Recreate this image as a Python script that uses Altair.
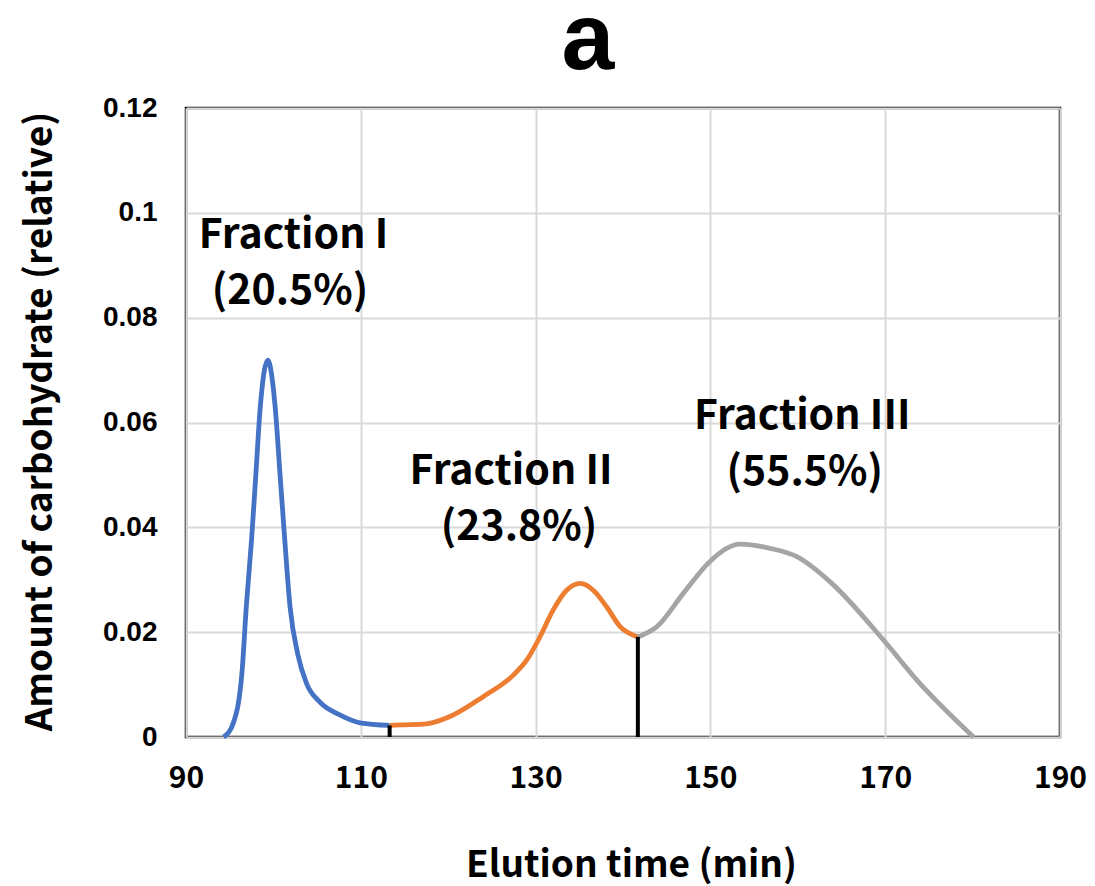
import altair as alt
import pandas as pd

# Fraction I (blue)
f1_t = [94.3, 95.4, 96.4, 96.9, 97.5, 98.0, 98.5, 99.35, 100.2, 100.75, 101.3, 101.9, 102.8, 103.8, 105.3, 107.6, 109.9, 113.3]
f1_v = [0.0, 0.0026, 0.0122, 0.0249, 0.0376, 0.0503, 0.063, 0.0719, 0.063, 0.0503, 0.0376, 0.0249, 0.0157, 0.0102, 0.0067, 0.0042, 0.0027, 0.0022]
# Fraction II (orange)
f2_t = [113.3, 114.5, 117.5, 120.2, 124.0, 127.45, 129.0, 130.5, 132.0, 133.55, 135.1, 136.6, 138.1, 139.7, 141.7]
f2_v = [0.0022, 0.0023, 0.0025, 0.0039, 0.0077, 0.0118, 0.0147, 0.0191, 0.0242, 0.028, 0.0293, 0.028, 0.0249, 0.021, 0.0191]
# Fraction III (gray)
f3_t = [141.7, 143.85, 146.9, 149.95, 153.4, 156.8, 159.9, 163.7, 169.8, 173.6, 180.1]
f3_v = [0.0191, 0.021, 0.0274, 0.0335, 0.0368, 0.036, 0.0344, 0.0296, 0.0185, 0.0109, 0.0]

series_names = ["Fraction I", "Fraction II", "Fraction III"]
series_colors = ["#4472C4", "#ED7D31", "#A5A5A5"]
series_widths = [4.8, 4.8, 6]

divider_t = [113.3, 141.7]
divider_top = [0.0022, 0.0191]

label_text = ["Fraction I", "(20.5%)", "Fraction II", "(23.8%)", "Fraction III", "(55.5%)"]
label_t = [102.3, 101.9, 127.2, 128.1, 160.5, 160.8]
label_v = [0.0956, 0.0849, 0.0506, 0.0399, 0.0611, 0.0504]

rows = []
for name, ts, vs in zip(series_names, [f1_t, f2_t, f3_t], [f1_v, f2_v, f3_v]):
    for i, (t, v) in enumerate(zip(ts, vs)):
        rows.append({"series": name, "t": t, "v": v, "order": i})
curve_df = pd.DataFrame(rows)
div_df = pd.DataFrame({"t": divider_t, "top": divider_top, "bottom": [0.0] * len(divider_t)})
lab_df = pd.DataFrame({"text": label_text, "t": label_t, "v": label_v})

x_scale = alt.Scale(domain=[90, 190], nice=False)
y_scale = alt.Scale(domain=[0, 0.12], nice=False)

x_axis = alt.Axis(
    values=[90, 110, 130, 150, 170, 190], title="Elution time (min)",
    labelFont="Noto Sans CJK JP", labelFontWeight="bold", labelFontSize=30, labelColor="#000000",
    labelBaseline="middle", labelPadding=41, labelFlush=False, labelOverlap=False,
    ticks=False, domain=False, grid=True, gridColor="#d9d9d9", gridWidth=2,
    titleFont="Noto Sans CJK JP", titleFontWeight="bold", titleFontSize=37, titleColor="#000000",
    titleX=445, titleY=128, titleBaseline="middle", titleAlign="center",
)
y_axis = alt.Axis(
    values=[0, 0.02, 0.04, 0.06, 0.08, 0.1, 0.12], title="Amount of carbohydrate (relative)",
    labelExpr="datum.value == 0 ? '0' : format(datum.value, '.2~f')",
    labelFont="Liberation Sans", labelFontWeight="bold", labelFontSize=28, labelColor="#000000",
    labelPadding=29, labelFlush=False, labelOverlap=False,
    ticks=False, domain=False, grid=True, gridColor="#d9d9d9", gridWidth=2,
    titleFont="Noto Sans CJK JP", titleFontWeight="bold", titleFontSize=37, titleColor="#000000",
    titleX=-146, titleY=313, titleBaseline="middle", titleAlign="center", titleAngle=270,
)

curves = alt.Chart(curve_df).mark_line(interpolate="monotone").encode(
    x=alt.X("t:Q", scale=x_scale, axis=x_axis),
    y=alt.Y("v:Q", scale=y_scale, axis=y_axis),
    color=alt.Color("series:N", scale=alt.Scale(domain=series_names, range=series_colors), legend=None),
    size=alt.Size("series:N", scale=alt.Scale(domain=series_names, range=series_widths), legend=None),
    order="order:Q",
)

dividers = alt.Chart(div_df).mark_rule(color="#000000", strokeWidth=4).encode(
    x="t:Q", y="bottom:Q", y2="top:Q",
)

labels = alt.Chart(lab_df).mark_text(
    font="Noto Sans CJK JP", fontWeight="bold", fontSize=41, color="#000000",
    align="center", baseline="middle",
).encode(x="t:Q", y="v:Q", text="text:N")

chart = alt.layer(curves, dividers, labels).properties(
    width=874, height=629,
    title=alt.TitleParams(
        "a", font="Liberation Sans", fontWeight="bold", fontSize=95, color="#000000",
        anchor="middle", dx=-35, offset=5,
    ),
    padding={"left": 186, "top": 108, "right": 35, "bottom": 149},
    autosize=alt.AutoSizeParams(type="none"),
).configure_view(stroke="#000000", strokeWidth=2.5)

chart.save("out.html", embed_options={"renderer": "svg", "actions": False})
